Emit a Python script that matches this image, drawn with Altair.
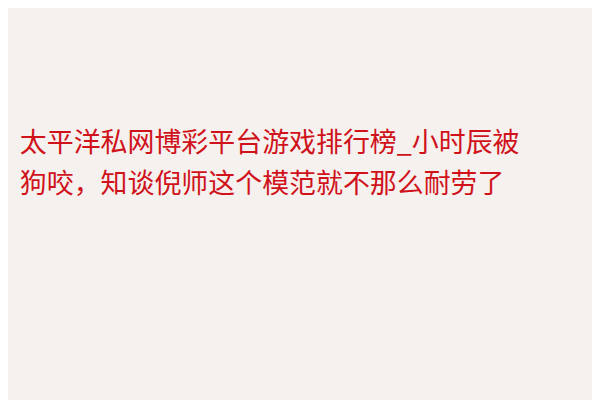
import altair as alt
import pandas as pd

lines = ["太平洋私网博彩平台游戏排行榜_小时辰被", "狗咬，知谈倪师这个模范就不那么耐劳了"]
rows = [1, 2]

df = pd.DataFrame({"row": rows, "text": lines})

chart = alt.Chart(df).mark_text(
    align="left", baseline="middle", font="Noto Sans CJK SC", fontSize=27.3, color="#d0121b"
).encode(
    x=alt.value(12),
    y=alt.Y("row:Q", axis=None, scale=alt.Scale(domain=[-2.2143, 7.119], reverse=True, nice=False, zero=False)),
    text="text:N",
).properties(
    width=592, height=392, background="#f5f1ee", padding=0,
    autosize=alt.AutoSizeParams(type="fit", contains="padding"),
).configure_view(stroke=None)

chart.save("out.html", embed_options={"renderer": "svg", "actions": False})
